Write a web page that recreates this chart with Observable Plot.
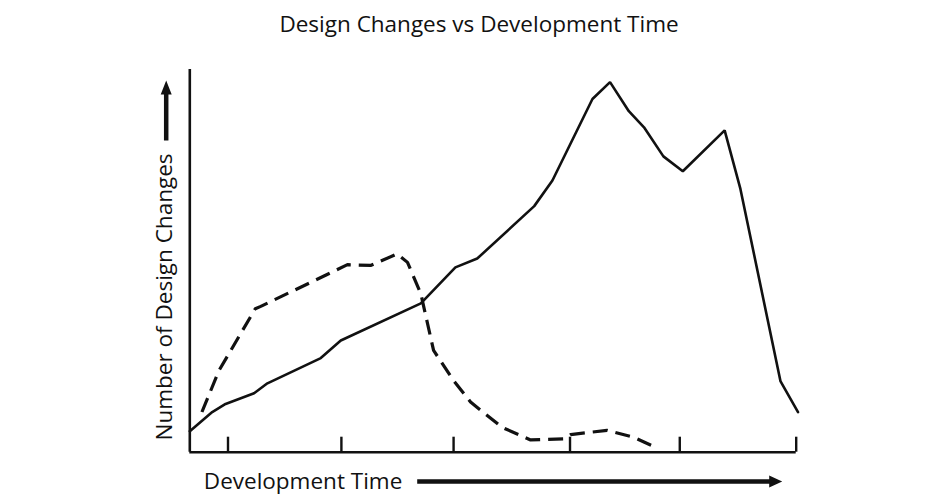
<!DOCTYPE html>
<html><head><meta charset="utf-8">
<script src="https://cdn.jsdelivr.net/npm/d3@7"></script>
<script src="https://cdn.jsdelivr.net/npm/@observablehq/plot@0.6"></script>
<style>body{margin:0;background:#fff}</style>
</head><body><div id="chart"></div>
<script>
// Solid curve (development time vs number of design changes)
const solidX = [0, 3.7, 5.9, 10.6, 12.8, 21.6, 24.9, 38.1, 43.8, 47.4, 56.8, 59.8, 66.4, 69.3, 72.4, 74.9, 78.1, 81.3, 88.2, 90.8, 97.4, 100.3];
const solidY = [5.5, 10.5, 12.6, 15.4, 18.0, 24.6, 29.2, 38.9, 48.3, 50.6, 64.3, 71.0, 92.3, 96.7, 89.1, 84.9, 77.3, 73.4, 84.1, 68.8, 18.6, 10.5];
// Dashed curve
const dashX = [2.0, 4.8, 10.8, 11.7, 26.0, 29.8, 34.2, 35.9, 38.1, 40.2, 43.5, 46.3, 51.5, 54.5, 56.2, 61.7, 62.8, 68.8, 73.2, 76.8];
const dashY = [10.5, 21.3, 37.5, 38.1, 49.0, 48.8, 51.8, 49.6, 41.4, 26.6, 18.7, 13.1, 6.5, 4.4, 3.2, 3.5, 4.6, 5.7, 3.9, 1.3];
// Tick positions along the time axis
const xTicks = [6.3, 25.0, 43.5, 62.7, 80.8, 100];
const title = "Design Changes vs Development Time";
const xLabel = "Development Time";
const yLabel = "Number of Design Changes";

const solid = solidX.map((x, i) => ({x, y: solidY[i]}));
const dashed = dashX.map((x, i) => ({x, y: dashY[i]}));

function arrowShape(shaft, headW, headL) {
  return {
    draw(ctx, l) {
      const s = shaft / 2, h = headW / 2, b = -(l - headL);
      ctx.moveTo(-s, 0);
      ctx.lineTo(-s, b);
      ctx.lineTo(-h, b);
      ctx.lineTo(0, -l);
      ctx.lineTo(h, b);
      ctx.lineTo(s, b);
      ctx.lineTo(s, 0);
      ctx.closePath();
    }
  };
}

const ink = "#111";
const chart = Plot.plot({
  width: 950,
  height: 500,
  marginLeft: 189.3,
  marginRight: 154.3,
  marginTop: 69,
  marginBottom: 48.3,
  style: {fontFamily: "'Open Sans', sans-serif", background: "#fff", color: ink},
  x: {domain: [0, 100], axis: null},
  y: {domain: [0, 100], axis: null},
  marks: [
    Plot.ruleY([0], {stroke: ink, strokeWidth: 2.6}),
    Plot.ruleX([0], {stroke: ink, strokeWidth: 2.6}),
    Plot.ruleX(xTicks, {x: d => d, y1: 0, y2: 0, insetTop: -15, stroke: ink, strokeWidth: 2.4}),
    Plot.line(dashed, {x: "x", y: "y", stroke: ink, strokeWidth: 3.2, strokeDasharray: "15,8", strokeLinecap: "butt"}),
    Plot.line(solid, {x: "x", y: "y", stroke: ink, strokeWidth: 2.6, strokeLinejoin: "miter"}),
    Plot.text([title], {text: d => d, frameAnchor: "top", lineAnchor: "bottom", dx: -14, dy: -37.3, fontSize: 22.5, fill: ink}),
    Plot.text([xLabel], {text: d => d, frameAnchor: "bottom-left", textAnchor: "start", lineAnchor: "bottom", dx: 14, dy: 36.6, fontSize: 22.5, fill: ink}),
    Plot.text([yLabel], {text: d => d, frameAnchor: "bottom-left", textAnchor: "start", lineAnchor: "bottom", rotate: -90, dx: -17.6, dy: -11.7, fontSize: 22.5, fill: ink}),
    Plot.vector([0], {frameAnchor: "top-left", dx: -23.6, dy: 71, length: 60, rotate: 0, anchor: "start", shape: arrowShape(4.5, 11, 14), fill: ink, stroke: "none"}),
    Plot.vector([0], {frameAnchor: "bottom-left", dx: 227.4, dy: 29.3, length: 365, rotate: 90, anchor: "start", shape: arrowShape(4.5, 12, 13), fill: ink, stroke: "none"})
  ]
});
document.getElementById("chart").appendChild(chart);
</script>
</body></html>
